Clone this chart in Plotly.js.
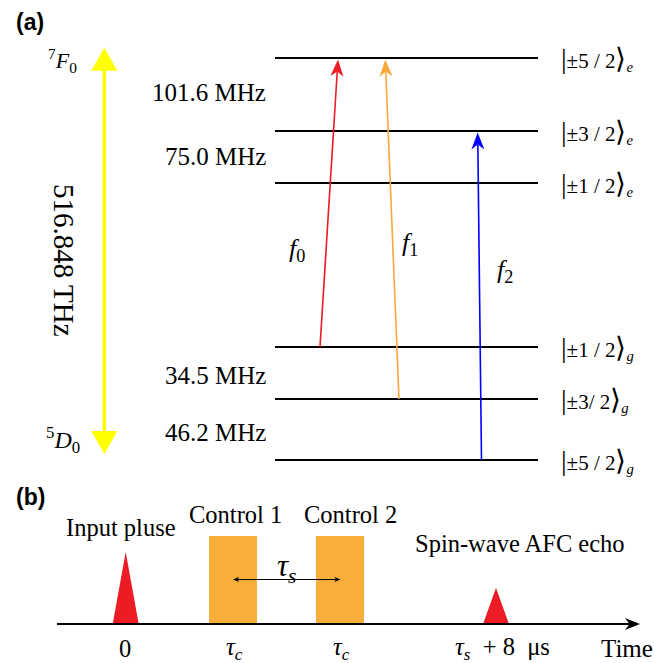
<!DOCTYPE html>
<html><head><meta charset="utf-8">
<script src="https://cdn.plot.ly/plotly-3.0.1.min.js"></script>
<style>html,body{margin:0;padding:0;background:#fff}#chart{width:654px;height:663px}</style>
</head><body><div id="chart"></div>
<script>
// ===== (a) hyperfine levels =====
const levelKets = ['±5 / 2', '±3 / 2', '±1 / 2', '±1 / 2', '±3/ 2', '±5 / 2'];
const levelSubs = ['e', 'e', 'e', 'g', 'g', 'g'];
const levelY = [58, 131, 183, 347, 399, 460];
const splitLabels = ['101.6 MHz', '75.0 MHz', '34.5 MHz', '46.2 MHz'];
const splitY = [92, 156, 375, 432];
const transLabels = ['f', 'f', 'f'];
const transSubs = ['0', '1', '2'];
const transFrom = [3, 4, 5];
const transTo = [0, 0, 1];
const transXStart = [320, 399, 481.5];
const transXEnd = [338, 385.3, 477.7];
const transColors = ['#ed1c24', '#f9a83c', '#0000ff'];
const opticalLabel = '516.848 THz';
const opticalTop = ['7', 'F', '0'];
const opticalBottom = ['5', 'D', '0'];

// ===== (b) pulse sequence =====
const pulseNames = ['Input pluse', 'Spin-wave AFC echo'];
const pulseX = [125.7, 496];
const pulseHeight = [72, 36];
const controlNames = ['Control 1', 'Control 2'];
const controlX0 = [209, 316];
const controlX1 = [257, 364];
const controlHeight = 88;
const timeLabels = ['0', '<i>τ</i><sub><i>c</i></sub>', '<i>τ</i><sub><i>c</i></sub>', '<i>τ</i><sub><i>s</i></sub>  + 8  μs'];
const timeLabelX = [125, 234, 341, 502];

// ---------- layout constants ----------
const SERIF = 'Liberation Serif';
const SANS = 'Liberation Sans';
const LX0 = 275, LX1 = 538;
const AXIS_Y = 624;
const TXT = 24.5;

const traces = [];
const shapes = [];
const ann = [];

function headPath(xt, yt, xs, ys, len, hw, notch) {
  const dx = xt - xs, dy = yt - ys, L = Math.hypot(dx, dy);
  const ux = dx / L, uy = dy / L, px = -uy, py = ux;
  const bx = xt - ux * len, by = yt - uy * len;
  const nx = xt - ux * len * (1 - notch), ny = yt - uy * len * (1 - notch);
  return {
    path: `M${xt},${yt} L${bx + px * hw},${by + py * hw} L${nx},${ny} L${bx - px * hw},${by - py * hw} Z`,
    nx: nx, ny: ny
  };
}
function arrow(xs, ys, xt, yt, color, width, len, hw, notch) {
  const h = headPath(xt, yt, xs, ys, len, hw, notch);
  traces.push({x: [xs, h.nx], y: [ys, h.ny], mode: 'lines', line: {color: color, width: width}, hoverinfo: 'skip'});
  shapes.push({type: 'path', xref: 'x', yref: 'y', path: h.path, fillcolor: color, line: {width: 0}});
}

// level lines
levelY.forEach(function (y) {
  traces.push({x: [LX0, LX1], y: [y, y], mode: 'lines', line: {color: '#000', width: 2}, hoverinfo: 'skip'});
});
// ket labels
levelKets.forEach(function (k, i) {
  ann.push({x: 559, y: levelY[i] + 1, xanchor: 'left', yanchor: 'middle', showarrow: false,
    text: '<span style="font-size:28px">|</span>' + k + '<span style="font-size:28px">⟩</span><sub><i>' + levelSubs[i] + '</i></sub>',
    font: {family: SERIF, size: 21, color: '#000'}});
});
// splittings
splitLabels.forEach(function (s, i) {
  ann.push({x: 268, y: splitY[i], xanchor: 'right', yanchor: 'middle', showarrow: false, text: s,
    font: {family: SERIF, size: 25, color: '#000'}});
});
// transitions
transFrom.forEach(function (f, i) {
  const yStart = levelY[f];
  const yEnd = levelY[transTo[i]] + 1.5;
  arrow(transXStart[i], yStart, transXEnd[i], yEnd, transColors[i], 1.6, 17, 6.5, 0.3);
});
const transLabelX = [287, 400, 495];
const transLabelY = [250, 244, 271];
transLabels.forEach(function (t, i) {
  ann.push({x: transLabelX[i], y: transLabelY[i], xanchor: 'left', yanchor: 'middle', showarrow: false,
    text: '<i>' + t + '</i><sub>' + transSubs[i] + '</sub>', font: {family: SERIF, size: 26, color: '#000'}});
});
// optical transition (yellow double arrow)
(function () {
  const x = 104.3, yTop = 47.7, yBot = 454;
  const hTop = headPath(x, yTop, x, yBot, 23, 13, 0);
  const hBot = headPath(x, yBot, x, yTop, 23, 13, 0);
  traces.push({x: [x, x], y: [hTop.ny, hBot.ny], mode: 'lines', line: {color: '#ffff00', width: 3.5}, hoverinfo: 'skip'});
  shapes.push({type: 'path', xref: 'x', yref: 'y', path: hTop.path, fillcolor: '#ffff00', line: {width: 0}});
  shapes.push({type: 'path', xref: 'x', yref: 'y', path: hBot.path, fillcolor: '#ffff00', line: {width: 0}});
})();
ann.push({x: 64, y: 260, textangle: 90, showarrow: false, text: opticalLabel,
  font: {family: SERIF, size: 29, color: '#000'}});
ann.push({x: 46, y: 60, xanchor: 'left', yanchor: 'middle', showarrow: false,
  text: '<sup>' + opticalTop[0] + '</sup><i>' + opticalTop[1] + '</i><sub>' + opticalTop[2] + '</sub>',
  font: {family: SERIF, size: 22, color: '#000'}});
ann.push({x: 44, y: 440, xanchor: 'left', yanchor: 'middle', showarrow: false,
  text: '<sup>' + opticalBottom[0] + '</sup><i>' + opticalBottom[1] + '</i><sub>' + opticalBottom[2] + '</sub>',
  font: {family: SERIF, size: 24, color: '#000'}});

// ===== (b) =====
controlNames.forEach(function (n, i) {
  traces.push({x: [controlX0[i], controlX1[i], controlX1[i], controlX0[i], controlX0[i]],
    y: [AXIS_Y, AXIS_Y, AXIS_Y - controlHeight, AXIS_Y - controlHeight, AXIS_Y],
    mode: 'lines', fill: 'toself', fillcolor: '#f9ae3b', line: {width: 0}, hoverinfo: 'skip'});
});
pulseNames.forEach(function (n, i) {
  traces.push({x: [pulseX[i] - 13, pulseX[i] + 13, pulseX[i], pulseX[i] - 13],
    y: [AXIS_Y, AXIS_Y, AXIS_Y - pulseHeight[i], AXIS_Y],
    mode: 'lines', fill: 'toself', fillcolor: '#ed1c24', line: {width: 0}, hoverinfo: 'skip'});
});
arrow(57, AXIS_Y, 640, AXIS_Y, '#000', 2, 15, 6, 0.3);
(function () {
  const xa = (controlX0[0] + controlX1[0]) / 2, xb = (controlX0[1] + controlX1[1]) / 2 + 0.5, y = 579.5;
  const h1 = headPath(xa, y, xb, y, 6, 2.5, 0.2);
  const h2 = headPath(xb, y, xa, y, 6, 2.5, 0.2);
  traces.push({x: [h1.nx, h2.nx], y: [y, y], mode: 'lines', line: {color: '#000', width: 1}, hoverinfo: 'skip'});
  shapes.push({type: 'path', xref: 'x', yref: 'y', path: h1.path, fillcolor: '#000', line: {width: 0}});
  shapes.push({type: 'path', xref: 'x', yref: 'y', path: h2.path, fillcolor: '#000', line: {width: 0}});
})();
ann.push({x: 287, y: 568, showarrow: false, text: '<i>τ</i><sub><i>s</i></sub>',
  font: {family: SERIF, size: 31, color: '#000'}});
ann.push({x: 121, y: 527, showarrow: false, text: pulseNames[0], font: {family: SERIF, size: TXT, color: '#000'}});
ann.push({x: 520, y: 543, showarrow: false, text: pulseNames[1], font: {family: SERIF, size: TXT, color: '#000'}});
ann.push({x: 235, y: 514, showarrow: false, text: controlNames[0], font: {family: SERIF, size: TXT, color: '#000'}});
ann.push({x: 350, y: 514, showarrow: false, text: controlNames[1], font: {family: SERIF, size: TXT, color: '#000'}});
timeLabels.forEach(function (t, i) {
  ann.push({x: timeLabelX[i], y: 648, showarrow: false, text: t, font: {family: SERIF, size: TXT, color: '#000'}});
});
ann.push({x: 599, y: 648, xanchor: 'left', showarrow: false, text: 'Time', font: {family: SERIF, size: 25, color: '#000'}});

ann.push({x: 14, y: 22, xanchor: 'left', showarrow: false, text: '<b>(a)</b>', font: {family: SANS, size: 23, color: '#000'}});
ann.push({x: 14, y: 497, xanchor: 'left', showarrow: false, text: '<b>(b)</b>', font: {family: SANS, size: 23, color: '#000'}});

const layout = {
  width: 654, height: 663,
  margin: {l: 0, r: 0, t: 0, b: 0},
  paper_bgcolor: '#fff', plot_bgcolor: '#fff',
  showlegend: false,
  font: {family: SERIF, color: '#000'},
  xaxis: {range: [0, 654], visible: false, fixedrange: true},
  yaxis: {range: [663, 0], visible: false, fixedrange: true},
  shapes: shapes,
  annotations: ann
};
Plotly.newPlot('chart', traces, layout, {displayModeBar: false, staticPlot: true});
</script>
</body></html>
